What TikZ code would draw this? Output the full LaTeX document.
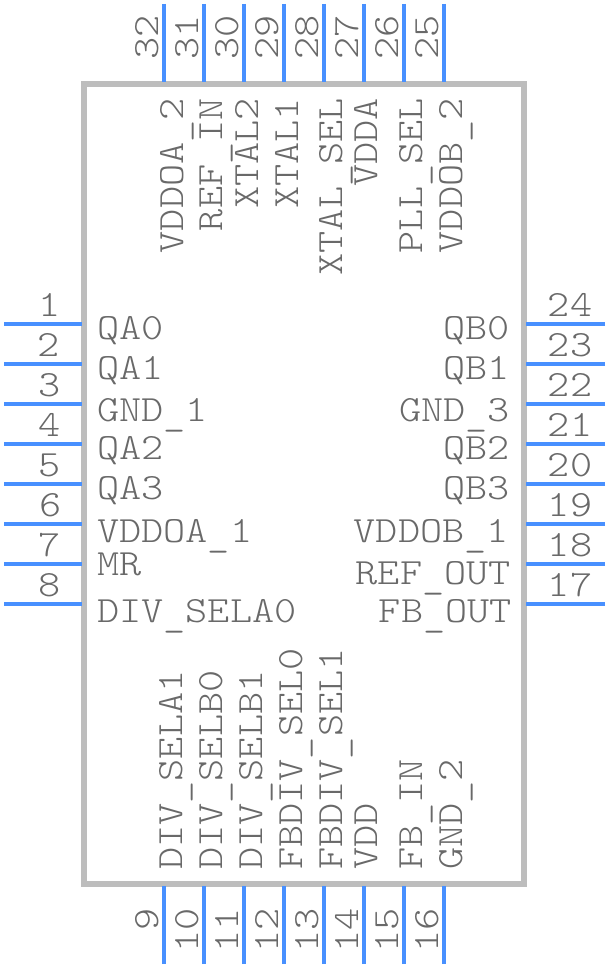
\documentclass[tikz,border=0pt]{standalone}
\usepackage{fontspec}
\setmonofont[FakeStretch=1.14]{Latin Modern Mono Light}
\usepackage{tikz}
\definecolor{pinblue}{RGB}{72,144,255}
\definecolor{bodygray}{RGB}{189,189,189}
\definecolor{textgray}{RGB}{105,105,105}
\newcommand{\lowus}{\raisebox{-4pt}{\_}}
\tikzset{
	pinline/.style={draw=pinblue, line width=4pt},
	bodybox/.style={draw=bodygray, line width=6pt, minimum width=440pt, minimum height=800pt, inner sep=0pt},
	lbl/.style={text=textgray, inner sep=0pt, font=\fontsize{37}{37}\selectfont\ttfamily},
	lblL/.style={lbl, anchor=base west},
	lblR/.style={lbl, anchor=base east},
	lblT/.style={lbl, anchor=base east, rotate=90},
	lblB/.style={lbl, anchor=base west, rotate=90},
	numH/.style={lbl, anchor=base},
}
\begin{document}
\begin{tikzpicture}[x=1pt, y=-1pt]
			\useasboundingbox (0,0) rectangle (608,968);
			\node[bodybox] (ic) at (304,484) {};
			% left pins
			\coordinate (a1) at (4,324); \coordinate (b1) at (82,324);
			\coordinate (a2) at (4,364); \coordinate (b2) at (82,364);
			\coordinate (a3) at (4,404); \coordinate (b3) at (82,404);
			\coordinate (a4) at (4,444); \coordinate (b4) at (82,444);
			\coordinate (a5) at (4,484); \coordinate (b5) at (82,484);
			\coordinate (a6) at (4,524); \coordinate (b6) at (82,524);
			\coordinate (a7) at (4,564); \coordinate (b7) at (82,564);
			\coordinate (a8) at (4,604); \coordinate (b8) at (82,604);
			% bottom pins
			\coordinate (a9) at (164,964); \coordinate (b9) at (164,886);
			\coordinate (a10) at (204,964); \coordinate (b10) at (204,886);
			\coordinate (a11) at (244,964); \coordinate (b11) at (244,886);
			\coordinate (a12) at (284,964); \coordinate (b12) at (284,886);
			\coordinate (a13) at (324,964); \coordinate (b13) at (324,886);
			\coordinate (a14) at (364,964); \coordinate (b14) at (364,886);
			\coordinate (a15) at (404,964); \coordinate (b15) at (404,886);
			\coordinate (a16) at (444,964); \coordinate (b16) at (444,886);
			% right pins
			\coordinate (a17) at (605,604); \coordinate (b17) at (526,604);
			\coordinate (a18) at (605,564); \coordinate (b18) at (526,564);
			\coordinate (a19) at (605,524); \coordinate (b19) at (526,524);
			\coordinate (a20) at (605,484); \coordinate (b20) at (526,484);
			\coordinate (a21) at (605,444); \coordinate (b21) at (526,444);
			\coordinate (a22) at (605,404); \coordinate (b22) at (526,404);
			\coordinate (a23) at (605,364); \coordinate (b23) at (526,364);
			\coordinate (a24) at (605,324); \coordinate (b24) at (526,324);
			% top pins
			\coordinate (a25) at (444,4); \coordinate (b25) at (444,82);
			\coordinate (a26) at (404,4); \coordinate (b26) at (404,82);
			\coordinate (a27) at (364,4); \coordinate (b27) at (364,82);
			\coordinate (a28) at (324,4); \coordinate (b28) at (324,82);
			\coordinate (a29) at (284,4); \coordinate (b29) at (284,82);
			\coordinate (a30) at (244,4); \coordinate (b30) at (244,82);
			\coordinate (a31) at (204,4); \coordinate (b31) at (204,82);
			\coordinate (a32) at (164,4); \coordinate (b32) at (164,82);
			\draw[pinline] (a1) -- (b1);
			\draw[pinline] (a2) -- (b2);
			\draw[pinline] (a3) -- (b3);
			\draw[pinline] (a4) -- (b4);
			\draw[pinline] (a5) -- (b5);
			\draw[pinline] (a6) -- (b6);
			\draw[pinline] (a7) -- (b7);
			\draw[pinline] (a8) -- (b8);
			\draw[pinline] (a9) -- (b9);
			\draw[pinline] (a10) -- (b10);
			\draw[pinline] (a11) -- (b11);
			\draw[pinline] (a12) -- (b12);
			\draw[pinline] (a13) -- (b13);
			\draw[pinline] (a14) -- (b14);
			\draw[pinline] (a15) -- (b15);
			\draw[pinline] (a16) -- (b16);
			\draw[pinline] (a17) -- (b17);
			\draw[pinline] (a18) -- (b18);
			\draw[pinline] (a19) -- (b19);
			\draw[pinline] (a20) -- (b20);
			\draw[pinline] (a21) -- (b21);
			\draw[pinline] (a22) -- (b22);
			\draw[pinline] (a23) -- (b23);
			\draw[pinline] (a24) -- (b24);
			\draw[pinline] (a25) -- (b25);
			\draw[pinline] (a26) -- (b26);
			\draw[pinline] (a27) -- (b27);
			\draw[pinline] (a28) -- (b28);
			\draw[pinline] (a29) -- (b29);
			\draw[pinline] (a30) -- (b30);
			\draw[pinline] (a31) -- (b31);
			\draw[pinline] (a32) -- (b32);
			% pin numbers
			\node[numH] (n1) at (50,316) {1};
			\node[numH] (n2) at (49,356) {2};
			\node[numH] (n3) at (50,396) {3};
			\node[numH] (n4) at (50,436) {4};
			\node[numH] (n5) at (50,476) {5};
			\node[numH] (n6) at (51,516) {6};
			\node[numH] (n7) at (50,556) {7};
			\node[numH] (n8) at (50,596) {8};
			\node[lblT] (n9) at (158,908) {9};
			\node[lblT] (n10) at (198,908) {10};
			\node[lblT] (n11) at (238,908) {11};
			\node[lblT] (n12) at (278,908) {12};
			\node[lblT] (n13) at (318,908) {13};
			\node[lblT] (n14) at (358,908) {14};
			\node[lblT] (n15) at (398,908) {15};
			\node[lblT] (n16) at (438,908) {16};
			\node[numH] (n17) at (570,596) {17};
			\node[numH] (n18) at (570,556) {18};
			\node[numH] (n19) at (570,516) {19};
			\node[numH] (n20) at (570,476) {20};
			\node[numH] (n21) at (570,436) {21};
			\node[numH] (n22) at (570,396) {22};
			\node[numH] (n23) at (570,356) {23};
			\node[numH] (n24) at (570,316) {24};
			\node[lblB] (n25) at (438,60) {25};
			\node[lblB] (n26) at (398,60) {26};
			\node[lblB] (n27) at (358,60) {27};
			\node[lblB] (n28) at (318,60) {28};
			\node[lblB] (n29) at (278,60) {29};
			\node[lblB] (n30) at (238,60) {30};
			\node[lblB] (n31) at (198,60) {31};
			\node[lblB] (n32) at (158,60) {32};
			% pin names
			\node[lblL] (QAzero) at (97,339) {QA0};
			\node[lblL] (QAone) at (97,379) {QA1};
			\node[lblL] (GNDone) at (97,421) {GND\lowus 1};
			\node[lblL] (QAtwo) at (97,459) {QA2};
			\node[lblL] (QAthree) at (97,499) {QA3};
			\node[lblL] (VDDOAone) at (97,542) {VDDOA\lowus 1};
			\node[lblL] (MR) at (97,575) {MR};
			\node[lblL] (SELAzero) at (97,622) {DIV\lowus SELA0};
			\node[lblR] (QBzero) at (510,339) {QB0};
			\node[lblR] (QBone) at (510,379) {QB1};
			\node[lblR] (GNDthree) at (510,421) {GND\lowus 3};
			\node[lblR] (QBtwo) at (510,459) {QB2};
			\node[lblR] (QBthree) at (510,499) {QB3};
			\node[lblR] (VDDOBone) at (509,542) {VDDOB\lowus 1};
			\node[lblR] (REFOUT) at (511,584) {REF\lowus OUT};
			\node[lblR] (FBOUT) at (512,622) {FB\lowus OUT};
			\node[lblT] (VDDOAtwo) at (183,98) {VDDOA\lowus 2};
			\node[lblT] (REFIN) at (222,98) {REF\lowus IN};
			\node[lblT] (XTALtwo) at (258,98) {XTAL2};
			\node[lblT] (XTALone) at (298,98) {XTAL1};
			\node[lblT] (XTALSEL) at (342,98) {XTAL\lowus SEL};
			\node[lblT] (VDDA) at (377,98) {VDDA};
			\node[lblT] (PLLSEL) at (422,98) {PLL\lowus SEL};
			\node[lblT] (VDDOBtwo) at (462,98) {VDDOB\lowus 2};
			\node[lblB] (SELAone) at (182,870) {DIV\lowus SELA1};
			\node[lblB] (SELBzero) at (222,870) {DIV\lowus SELB0};
			\node[lblB] (SELBone) at (262,870) {DIV\lowus SELB1};
			\node[lblB] (FBSELzero) at (302,870) {FBDIV\lowus SEL0};
			\node[lblB] (FBSELone) at (342,870) {FBDIV\lowus SEL1};
			\node[lblB] (VDD) at (377,870) {VDD};
			\node[lblB] (FBIN) at (422,870) {FB\lowus IN};
			\node[lblB] (GNDtwo) at (462,870) {GND\lowus 2};
		\end{tikzpicture}
\end{document}
